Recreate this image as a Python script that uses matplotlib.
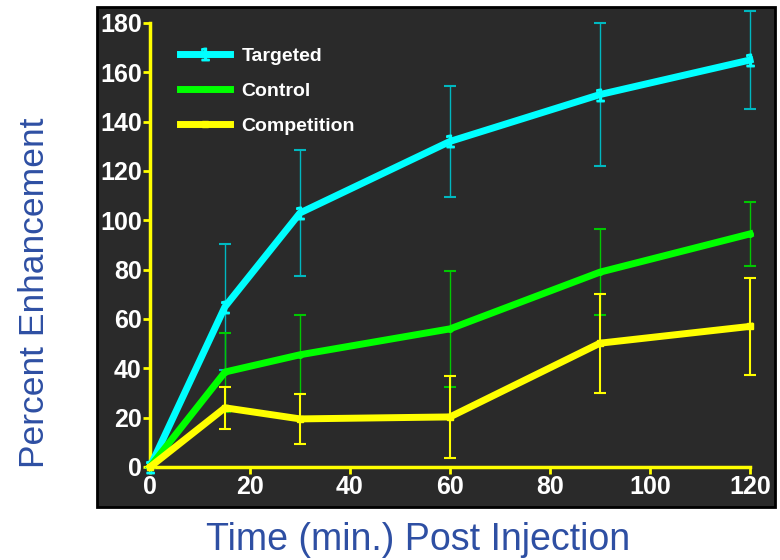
import matplotlib.pyplot as plt
from matplotlib.patches import Rectangle

plt.rcParams['font.family'] = ['Liberation Sans', 'DejaVu Sans']

# minutos despues de la inyeccion
tiempo = [0, 15, 30, 60, 90, 120]

dirigido = [0, 65, 103, 132, 151, 165]
dirigido_err = [0, 25.5, 25.5, 22.5, 29, 20]

control = [0, 38.5, 45.5, 56, 79, 94.5]
control_err = [0, 16, 16, 23.5, 17.5, 13]

competencia = [0, 24, 19.5, 20.3, 50.2, 57]
competencia_err = [0, 8.5, 10, 16.5, 20, 19.7]

fig = plt.figure(figsize=(7.8, 5.6), dpi=100)

# panel oscuro detras de la grafica
panel = Rectangle((97/780, 53/560), 678/780, 500/560, transform=fig.transFigure,
                  facecolor="#2a2a2a", edgecolor="black", linewidth=2, zorder=-5)
fig.patches.append(panel)

ax = fig.add_axes([150/780, 93/560, 600/780, 444/560])
ax.set_facecolor("none")
ax.set_zorder(2)

e1 = ax.errorbar(tiempo, dirigido, yerr=dirigido_err, color="#00ffff", ecolor="#00b8c0",
                 elinewidth=1, capsize=4, capthick=1.5, linewidth=5,
                 marker="$1$", markersize=9, label="Targeted", clip_on=False, zorder=3)
e2 = ax.errorbar(tiempo, control, yerr=control_err, color="#00ff00", ecolor="#00c800",
                 elinewidth=1, capsize=4, capthick=1.5, linewidth=5,
                 marker="o", markersize=4, label="Control", clip_on=False, zorder=3)
e3 = ax.errorbar(tiempo, competencia, yerr=competencia_err, color="#ffff00", ecolor="#ffff00",
                 elinewidth=1.5, capsize=4, capthick=1.5, linewidth=5,
                 marker="s", markersize=4, label="Competition", clip_on=False, zorder=3)

ax.set_xlim(0, 120)
ax.set_ylim(0, 180)
ax.set_xticks(range(0, 121, 20))
ax.set_yticks(range(0, 181, 20))

for lado in ["top", "right"]:
    ax.spines[lado].set_visible(False)
for lado in ["left", "bottom"]:
    ax.spines[lado].set_color("#ffff00")
    ax.spines[lado].set_linewidth(2.5)

ax.tick_params(colors="#ffff00", width=2, length=5, labelcolor="white", labelsize=18, pad=1)
for t in ax.get_xticklabels() + ax.get_yticklabels():
    t.set_fontweight("bold")

leg = ax.legend([e1.lines[0], e2.lines[0], e3.lines[0]], ["Targeted", "Control", "Competition"],
                loc="upper left", bbox_to_anchor=(0.02, 0.985), frameon=False,
                fontsize=14, handlelength=2.6, handletextpad=0.6, labelspacing=0.9)
for t in leg.get_texts():
    t.set_color("white")
    t.set_fontweight("bold")

fig.text(35/780, 1 - 293/560, "Percent Enhancement", rotation=90, ha="center", va="center",
         fontsize=25.5, color="#2e4fa3")
fig.text(418/780, 1 - 540/560, "Time (min.) Post Injection", ha="center", va="center",
         fontsize=27, color="#2e4fa3")

plt.savefig("out.png", dpi=100)
